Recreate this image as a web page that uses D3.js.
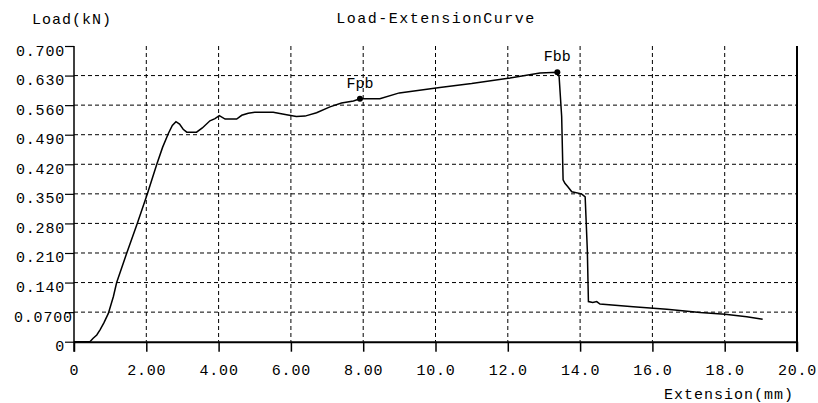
<!DOCTYPE html>
<meta charset="utf-8">
<style>
body { margin: 0; background: #fff; }
svg { display: block; }
text { font-family: "Liberation Mono", "DejaVu Sans Mono", monospace; font-size: 15px; fill: #000; }
.grid line { stroke: #000; stroke-width: 1; stroke-dasharray: 4,3; }
.curve { fill: none; stroke: #000; stroke-width: 1.5; }
</style>
<body>
<script src="https://d3js.org/d3.v7.min.js"></script>
<script>
// extension (mm) and load (kN)
var extension = [0, 0.44, 0.53, 0.63, 0.72, 0.83, 0.95, 1.09, 1.18, 1.46,
  1.75, 2.03, 2.29, 2.45, 2.61, 2.72, 2.82, 2.92, 3.02, 3.12,
  3.39, 3.55, 3.76, 3.90, 4.02, 4.18, 4.50, 4.64, 4.82, 5.0,
  5.51, 5.88, 6.15, 6.39, 6.71, 7.08, 7.40, 7.73, 7.91, 8.46,
  9.0, 10.12, 11.0, 12.06, 12.89, 13.37, 13.42, 13.49, 13.53, 13.58,
  13.65, 13.77, 14.04, 14.14, 14.20, 14.23, 14.35, 14.46, 14.55, 15.47,
  16.40, 17.32, 18.01, 18.61, 19.05];
var load = [0, 0, 0.008, 0.016, 0.028, 0.045, 0.067, 0.107, 0.14, 0.21,
  0.28, 0.35, 0.42, 0.46, 0.493, 0.512, 0.521, 0.515, 0.503, 0.496,
  0.496, 0.506, 0.523, 0.528, 0.535, 0.527, 0.527, 0.536, 0.541, 0.543,
  0.543, 0.537, 0.533, 0.534, 0.542, 0.556, 0.565, 0.570, 0.575, 0.575,
  0.589, 0.602, 0.611, 0.624, 0.636, 0.638, 0.627, 0.533, 0.383, 0.375,
  0.368, 0.355, 0.350, 0.343, 0.217, 0.095, 0.093, 0.095, 0.089, 0.083,
  0.077, 0.069, 0.065, 0.059, 0.053];

var pointNames = ["Fpb", "Fbb"];
var pointX = [7.91, 13.37];
var pointY = [0.575, 0.638];

var xTicks = [0, 2, 4, 6, 8, 10, 12, 14, 16, 18, 20];
var xTickLabels = ["0", "2.00", "4.00", "6.00", "8.00", "10.0", "12.0", "14.0", "16.0", "18.0", "20.0"];
var yTicks = [0, 0.07, 0.14, 0.21, 0.28, 0.35, 0.42, 0.49, 0.56, 0.63, 0.70];
var yTickLabels = ["0", "0.0700", "0.140", "0.210", "0.280", "0.350", "0.420", "0.490", "0.560", "0.630", "0.700"];

var width = 818, height = 403;
var mLeft = 74, mRight = 797, mTop = 46, mBottom = 341.7;

var x = d3.scaleLinear().domain([0, 20]).range([mLeft, mRight]);
var y = d3.scaleLinear().domain([0, 0.7]).range([mBottom, mTop]);

var svg = d3.select("body").append("svg")
  .attr("width", width)
  .attr("height", height);

// dashed grid
var grid = svg.append("g").attr("class", "grid");
grid.selectAll(".gx")
  .data(xTicks.slice(1, -1))
  .enter().append("line")
    .attr("x1", function(d) { return x(d); })
    .attr("x2", function(d) { return x(d); })
    .attr("y1", mTop)
    .attr("y2", mBottom);
grid.selectAll(".gy")
  .data(yTicks.slice(1, -1))
  .enter().append("line")
    .attr("x1", mLeft)
    .attr("x2", mRight)
    .attr("y1", function(d) { return y(d); })
    .attr("y2", function(d) { return y(d); });

// axes
var xAxis = d3.axisBottom(x)
  .tickValues(xTicks)
  .tickSize(10)
  .tickSizeOuter(0)
  .tickFormat(function(d, i) { return xTickLabels[i]; });
var gx = svg.append("g")
  .attr("transform", "translate(0," + mBottom + ")")
  .call(xAxis);
gx.select(".domain").attr("stroke", "#000").attr("stroke-width", 2);
gx.selectAll(".tick line").attr("stroke", "#000").attr("stroke-width", 1.5);
gx.selectAll(".tick text")
  .attr("y", 33)
  .attr("dy", null)
  .attr("letter-spacing", 0.8);

var yAxis = d3.axisLeft(y)
  .tickValues(yTicks)
  .tickSize(9)
  .tickSizeOuter(0)
  .tickFormat(function(d, i) { return yTickLabels[i]; });
var gy = svg.append("g")
  .attr("transform", "translate(" + mLeft + ",0)")
  .call(yAxis);
gy.select(".domain").attr("stroke", "#000").attr("stroke-width", 1.5)
  .attr("d", "M0," + mTop + "V" + (mBottom + 10));
gy.selectAll(".tick line").attr("stroke", "#000").attr("stroke-width", 1.2);
gy.selectAll(".tick text")
  .attr("text-anchor", "start")
  .attr("x", function(d, i) { return Math.max(14, 65 - yTickLabels[i].length * 9.8) - mLeft; })
  .attr("dy", null)
  .attr("y", 9)
  .attr("letter-spacing", 0.8);
svg.selectAll("g").attr("font-family", null).attr("font-size", null);

// right border
svg.append("line")
  .attr("x1", mRight).attr("x2", mRight)
  .attr("y1", mTop).attr("y2", mBottom + 10)
  .attr("stroke", "#000").attr("stroke-width", 2);

// curve
var line = d3.line()
  .x(function(d) { return x(extension[d]); })
  .y(function(d) { return y(load[d]); });
svg.append("path")
  .attr("class", "curve")
  .attr("d", line(d3.range(extension.length)));

// marked points
var pts = svg.selectAll(".pt")
  .data(pointNames)
  .enter().append("g");
pts.append("circle")
  .attr("cx", function(d, i) { return x(pointX[i]); })
  .attr("cy", function(d, i) { return y(pointY[i]); })
  .attr("r", 3)
  .attr("fill", "#000");
pts.append("text")
  .attr("x", function(d, i) { return x(pointX[i]); })
  .attr("y", function(d, i) { return y(pointY[i]) - 11; })
  .attr("text-anchor", "middle")
  .text(function(d) { return d; });

// titles
svg.append("text").attr("x", 32).attr("y", 24).attr("letter-spacing", 1).text("Load(kN)");
svg.append("text").attr("x", 436).attr("y", 23).attr("text-anchor", "middle").attr("letter-spacing", 1.5).text("Load-ExtensionCurve");
svg.append("text").attr("x", 794).attr("y", 399).attr("text-anchor", "end").attr("letter-spacing", 1).text("Extension(mm)");
</script>
